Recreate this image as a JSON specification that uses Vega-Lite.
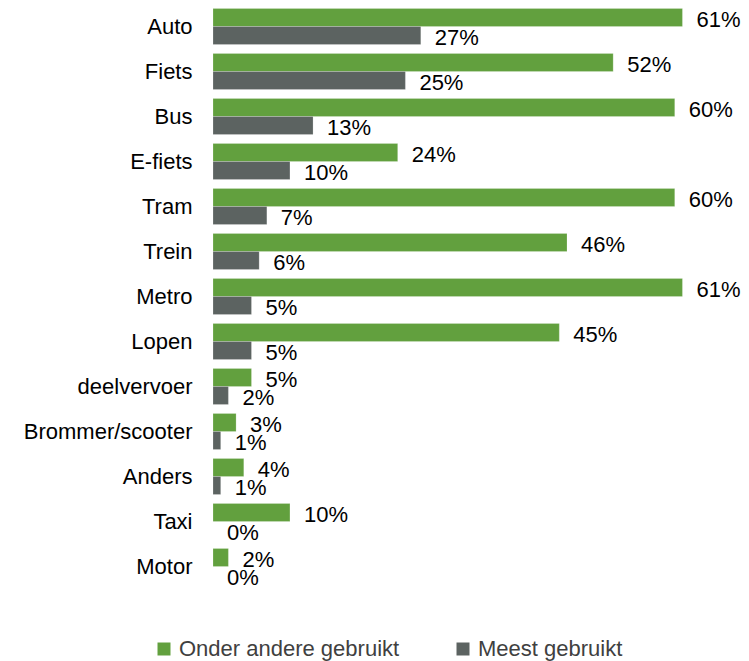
{
  "$schema": "https://vega.github.io/schema/vega-lite/v6.json",
  "autosize": "none",
  "width": 531,
  "height": 585,
  "padding": {"left": 213, "top": 4, "right": 5, "bottom": 72},
  "background": "white",
  "config": {"view": {"stroke": null}, "font": "Liberation Sans"},
  "data": {
    "values": [
      {"mode": "Auto", "serie": "Onder andere gebruikt", "pct": 0.61},
      {"mode": "Auto", "serie": "Meest gebruikt", "pct": 0.27},
      {"mode": "Fiets", "serie": "Onder andere gebruikt", "pct": 0.52},
      {"mode": "Fiets", "serie": "Meest gebruikt", "pct": 0.25},
      {"mode": "Bus", "serie": "Onder andere gebruikt", "pct": 0.60},
      {"mode": "Bus", "serie": "Meest gebruikt", "pct": 0.13},
      {"mode": "E-fiets", "serie": "Onder andere gebruikt", "pct": 0.24},
      {"mode": "E-fiets", "serie": "Meest gebruikt", "pct": 0.10},
      {"mode": "Tram", "serie": "Onder andere gebruikt", "pct": 0.60},
      {"mode": "Tram", "serie": "Meest gebruikt", "pct": 0.07},
      {"mode": "Trein", "serie": "Onder andere gebruikt", "pct": 0.46},
      {"mode": "Trein", "serie": "Meest gebruikt", "pct": 0.06},
      {"mode": "Metro", "serie": "Onder andere gebruikt", "pct": 0.61},
      {"mode": "Metro", "serie": "Meest gebruikt", "pct": 0.05},
      {"mode": "Lopen", "serie": "Onder andere gebruikt", "pct": 0.45},
      {"mode": "Lopen", "serie": "Meest gebruikt", "pct": 0.05},
      {"mode": "deelvervoer", "serie": "Onder andere gebruikt", "pct": 0.05},
      {"mode": "deelvervoer", "serie": "Meest gebruikt", "pct": 0.02},
      {"mode": "Brommer/scooter", "serie": "Onder andere gebruikt", "pct": 0.03},
      {"mode": "Brommer/scooter", "serie": "Meest gebruikt", "pct": 0.01},
      {"mode": "Anders", "serie": "Onder andere gebruikt", "pct": 0.04},
      {"mode": "Anders", "serie": "Meest gebruikt", "pct": 0.01},
      {"mode": "Taxi", "serie": "Onder andere gebruikt", "pct": 0.10},
      {"mode": "Taxi", "serie": "Meest gebruikt", "pct": 0.00},
      {"mode": "Motor", "serie": "Onder andere gebruikt", "pct": 0.02},
      {"mode": "Motor", "serie": "Meest gebruikt", "pct": 0.00}
    ]
  },
  "encoding": {
    "y": {
      "field": "mode",
      "type": "nominal",
      "sort": ["Auto", "Fiets", "Bus", "E-fiets", "Tram", "Trein", "Metro", "Lopen", "deelvervoer", "Brommer/scooter", "Anders", "Taxi", "Motor"],
      "scale": {"paddingInner": 0.2, "paddingOuter": 0.1},
      "axis": {"title": null, "domain": false, "ticks": false, "labelPadding": 21, "labelFontSize": 22, "labelColor": "#000000", "labelFont": "Liberation Sans", "labelLimit": 300}
    },
    "yOffset": {
      "field": "serie",
      "type": "nominal",
      "sort": ["Onder andere gebruikt", "Meest gebruikt"]
    },
    "x": {
      "field": "pct",
      "type": "quantitative",
      "scale": {"domain": [0, 0.69], "nice": false},
      "axis": null
    }
  },
  "layer": [
    {
      "mark": {"type": "bar", "stroke": "#ffffff", "strokeWidth": 0.5, "strokeOpacity": 0.4},
      "encoding": {
        "color": {
          "field": "serie",
          "type": "nominal",
          "sort": ["Onder andere gebruikt", "Meest gebruikt"],
          "scale": {"domain": ["Onder andere gebruikt", "Meest gebruikt"], "range": ["#62a03e", "#5c6361"]},
          "legend": {
            "title": null,
            "orient": "none",
            "direction": "horizontal",
            "legendX": -60,
            "legendY": 634,
            "symbolType": "square",
            "symbolSize": 169,
            "symbolStrokeWidth": 0,
            "symbolOffset": 0,
            "labelFontSize": 22,
            "labelColor": "#404040",
            "labelOffset": 4,
            "columnPadding": 52,
            "labelLimit": 400,
            "labelFont": "Liberation Sans"
          }
        }
      }
    },
    {
      "mark": {"type": "text", "align": "left", "baseline": "middle", "dx": 14, "dy": 2, "fontSize": 22, "color": "#000000", "font": "Liberation Sans"},
      "encoding": {
        "text": {"field": "pct", "type": "quantitative", "format": ".0%"}
      }
    }
  ]
}
